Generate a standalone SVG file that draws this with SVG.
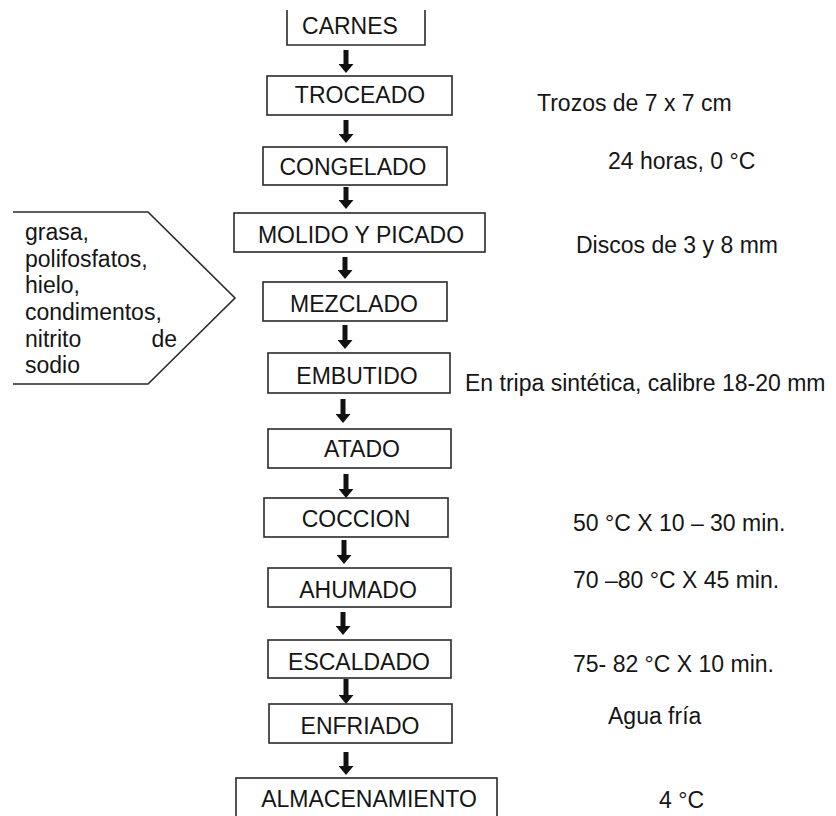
<svg xmlns="http://www.w3.org/2000/svg" width="836" height="816" viewBox="0 0 836 816">
<style>
.box{fill:#fff;stroke:#2a2a2a;stroke-width:1.6}
.t{font-family:"Liberation Sans",Arial,sans-serif;font-size:23px;fill:#151515}
.c{text-anchor:middle}
.arr{stroke:#111;stroke-width:5;fill:none}
</style>
<defs>
<marker id="ah" markerUnits="userSpaceOnUse" markerWidth="9" markerHeight="15" refX="0" refY="7.5" orient="auto" viewBox="0 0 9 15">
<path d="M0,0 L9,7.5 L0,15 z" fill="#111"/>
</marker>
</defs>
<rect width="836" height="816" fill="#fff"/>
<g id="connectors">
<line class="arr" x1="346" y1="50" x2="346" y2="64" marker-end="url(#ah)"/>
<line class="arr" x1="346" y1="120" x2="346" y2="134" marker-end="url(#ah)"/>
<line class="arr" x1="346" y1="187" x2="346" y2="200" marker-end="url(#ah)"/>
<line class="arr" x1="345" y1="257" x2="345" y2="270" marker-end="url(#ah)"/>
<line class="arr" x1="345" y1="325" x2="345" y2="340" marker-end="url(#ah)"/>
<line class="arr" x1="343" y1="399" x2="343" y2="414" marker-end="url(#ah)"/>
<line class="arr" x1="346" y1="474" x2="346" y2="489" marker-end="url(#ah)"/>
<line class="arr" x1="344" y1="540" x2="344" y2="555" marker-end="url(#ah)"/>
<line class="arr" x1="343" y1="612" x2="343" y2="626" marker-end="url(#ah)"/>
<line class="arr" x1="346" y1="679" x2="346" y2="695" marker-end="url(#ah)"/>
<line class="arr" x1="346" y1="752" x2="346" y2="766" marker-end="url(#ah)"/>
</g>
<g id="carnes">
<path class="box" d="M287,10 V45 H425 V10" fill="none"/>
<text class="t c" x="350" y="34">CARNES</text>
</g>
<g id="troceado">
<rect class="box" x="267" y="76" width="185" height="39"/>
<text class="t c" x="360" y="103">TROCEADO</text>
</g>
<g id="congelado">
<rect class="box" x="263" y="147" width="184" height="38"/>
<text class="t c" x="353" y="175">CONGELADO</text>
</g>
<g id="molido">
<rect class="box" x="234" y="213" width="251" height="39"/>
<text class="t c" x="361" y="243">MOLIDO Y PICADO</text>
</g>
<g id="mezclado">
<rect class="box" x="263" y="282" width="184" height="39"/>
<text class="t c" x="354" y="312">MEZCLADO</text>
</g>
<g id="embutido">
<rect class="box" x="268" y="353" width="182" height="40"/>
<text class="t c" x="357" y="384">EMBUTIDO</text>
</g>
<g id="atado">
<rect class="box" x="268" y="429" width="183" height="39"/>
<text class="t c" x="362" y="457">ATADO</text>
</g>
<g id="coccion">
<rect class="box" x="264" y="498" width="184" height="39"/>
<text class="t c" x="356" y="527">COCCION</text>
</g>
<g id="ahumado">
<rect class="box" x="268" y="568" width="183" height="39"/>
<text class="t c" x="358" y="598">AHUMADO</text>
</g>
<g id="escaldado">
<rect class="box" x="268" y="640" width="183" height="38"/>
<text class="t c" x="359" y="670">ESCALDADO</text>
</g>
<g id="enfriado">
<rect class="box" x="269" y="704" width="183" height="39"/>
<text class="t c" x="360" y="734">ENFRIADO</text>
</g>
<g id="almacenamiento">
<rect class="box" x="236" y="778" width="261" height="45"/>
<text class="t c" x="369" y="807">ALMACENAMIENTO</text>
</g>
<g id="ingredientes">
<path class="box" d="M13,212 H148 L235,298 L148,384 H13" fill="none"/>
<text class="t" x="25" y="240">grasa,</text>
<text class="t" x="25" y="267">polifosfatos,</text>
<text class="t" x="25" y="293">hielo,</text>
<text class="t" x="25" y="320">condimentos,</text>
<text class="t" x="25" y="347">nitrito</text>
<text class="t" x="177" y="347" text-anchor="end">de</text>
<text class="t" x="25" y="373">sodio</text>
</g>
<g id="notas">
<text class="t" x="537" y="111">Trozos de 7 x 7 cm</text>
<text class="t" x="608" y="169">24 horas, 0 °C</text>
<text class="t" x="576" y="253">Discos de 3 y 8 mm</text>
<text class="t" x="465" y="391">En tripa sintética, calibre 18-20 mm</text>
<text class="t" x="573" y="531">50 °C X 10 – 30 min.</text>
<text class="t" x="573" y="588">70 –80 °C X 45 min.</text>
<text class="t" x="573" y="672">75- 82 °C X 10 min.</text>
<text class="t" x="608" y="724">Agua fría</text>
<text class="t" x="659" y="808">4 °C</text>
</g>
</svg>
